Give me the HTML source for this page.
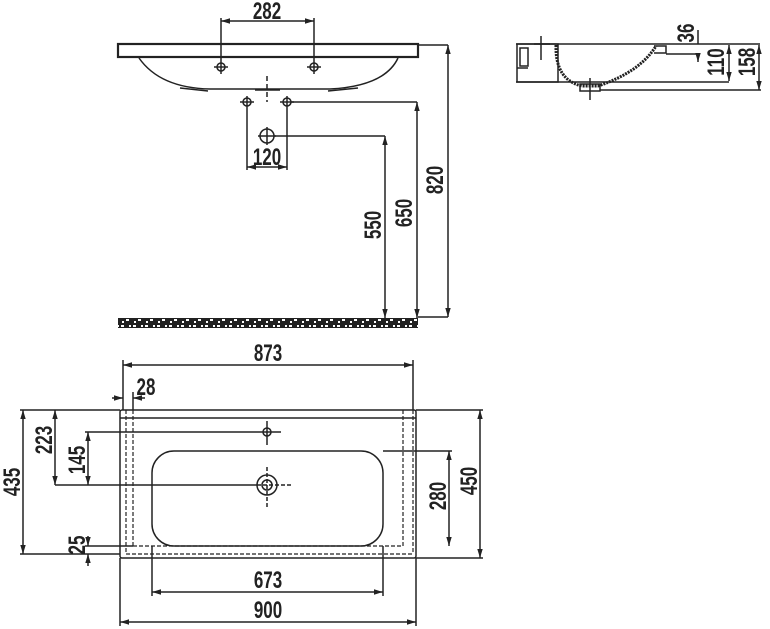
<!DOCTYPE html>
<html><head><meta charset="utf-8"><style>
html,body{margin:0;padding:0;background:#fff}
svg{display:block}
text{font-family:"Liberation Sans Narrow","Liberation Sans",sans-serif;font-weight:bold;font-size:20px;fill:#222}
</style></head><body>
<svg width="770" height="629" viewBox="0 0 770 629" xmlns="http://www.w3.org/2000/svg">
<defs>
<marker id="a" viewBox="0 0 10 10" refX="10" refY="5" markerWidth="6" markerHeight="6" orient="auto-start-reverse"><path d="M0,2 L10,5 L0,8z" fill="#222"/></marker>
<pattern id="sp" width="12" height="9" patternUnits="userSpaceOnUse"><rect width="12" height="9" fill="#222"/><rect x="1" y="1" width="3" height="2" fill="#fff"/><rect x="6" y="4" width="3" height="2" fill="#fff"/><rect x="2" y="6" width="2" height="2" fill="#fff"/><rect x="9" y="1" width="2" height="2" fill="#fff"/></pattern>
</defs>
<g stroke="#222" stroke-width="1.5" fill="none">
<rect x="118" y="44" width="300" height="13" stroke-width="2.2"/>
<path d="M139,58 Q160,88 210,89 L330,89 Q385,86 398,58"/>
<path d="M180,88 L208,91 M328,91 L358,88 M255,90 L280,90"/>
<line x1="221" y1="18" x2="221" y2="74"/><line x1="314" y1="18" x2="314" y2="74"/>
<line x1="221" y1="21" x2="314" y2="21" marker-start="url(#a)" marker-end="url(#a)"/>
<circle cx="221" cy="67" r="4"/><line x1="214" y1="67" x2="228" y2="67"/>
<circle cx="314" cy="67" r="4"/><line x1="307" y1="67" x2="321" y2="67"/>
<line x1="267" y1="76" x2="267" y2="102" stroke-dasharray="5,3"/>
<circle cx="247" cy="102" r="4"/><line x1="240" y1="102" x2="254" y2="102"/>
<circle cx="287" cy="102" r="4"/><line x1="280" y1="102" x2="294" y2="102"/>
<line x1="247" y1="96" x2="247" y2="170"/><line x1="287" y1="96" x2="287" y2="170"/>
<line x1="247" y1="167" x2="287" y2="167" marker-start="url(#a)" marker-end="url(#a)"/>
<line x1="291" y1="102" x2="417" y2="102"/>
<line x1="417" y1="102" x2="417" y2="318" marker-start="url(#a)" marker-end="url(#a)"/>
<circle cx="267" cy="136" r="7"/><line x1="267" y1="127" x2="267" y2="145"/><line x1="258" y1="136" x2="276" y2="136"/>
<line x1="274" y1="136" x2="385" y2="136"/>
<line x1="385" y1="136" x2="385" y2="318" marker-start="url(#a)" marker-end="url(#a)"/>
<line x1="418" y1="45" x2="448" y2="45"/>
<line x1="448" y1="45" x2="448" y2="317" marker-start="url(#a)" marker-end="url(#a)"/>
<line x1="418" y1="317" x2="448" y2="317"/>
<rect x="118" y="318" width="300" height="10" fill="url(#sp)" stroke="none"/>
<line x1="516" y1="44" x2="760" y2="44"/>
<line x1="516" y1="82" x2="729" y2="82"/>
<rect x="517" y="44" width="41" height="38"/>
<rect x="520" y="48" width="8" height="18"/>
<line x1="517" y1="68" x2="528" y2="68"/>
<path d="M556,45 Q555,80 582,86 L598,86 Q640,72 656,46" stroke-width="3" stroke-dasharray="2,1"/>
<rect x="580" y="84" width="20" height="7"/>
<path d="M654,46 L666,46 L666,53 L654,53"/>
<line x1="541" y1="36" x2="541" y2="60"/><line x1="534" y1="44" x2="550" y2="44"/>
<line x1="590" y1="78" x2="590" y2="100"/>
<line x1="666" y1="54" x2="698" y2="54"/><line x1="698" y1="54" x2="698" y2="62" marker-end="url(#a)"/>
<line x1="698" y1="30" x2="698" y2="44"/>
<line x1="729" y1="45" x2="729" y2="81" marker-start="url(#a)" marker-end="url(#a)"/>
<line x1="600" y1="90" x2="761" y2="90"/>
<line x1="759" y1="45" x2="759" y2="90" marker-start="url(#a)" marker-end="url(#a)"/>
<rect x="120" y="410" width="296" height="148" rx="2"/>
<line x1="120" y1="418" x2="416" y2="418"/>
<g stroke-dasharray="4,2" stroke-width="1.2">
<line x1="126" y1="410" x2="126" y2="554"/><line x1="133" y1="410" x2="133" y2="546"/>
<line x1="403" y1="410" x2="403" y2="546"/><line x1="413" y1="410" x2="413" y2="554"/>
<line x1="133" y1="546" x2="403" y2="546"/><line x1="126" y1="554" x2="413" y2="554"/>
</g>
<rect x="152" y="451" width="231" height="95" rx="22"/>
<circle cx="267" cy="432" r="4"/><line x1="267" y1="421" x2="267" y2="445"/><line x1="256" y1="432" x2="281" y2="432"/>
<circle cx="267" cy="485" r="10"/><circle cx="267" cy="485" r="5"/>
<line x1="267" y1="467" x2="267" y2="507" stroke-dasharray="4,2"/><line x1="257" y1="485" x2="291" y2="485" stroke-dasharray="4,2"/>
<line x1="123" y1="360" x2="123" y2="410"/><line x1="413" y1="360" x2="413" y2="410"/>
<line x1="123" y1="365" x2="413" y2="365" marker-start="url(#a)" marker-end="url(#a)"/>
<line x1="112" y1="398" x2="123" y2="398" marker-end="url(#a)"/><line x1="145" y1="398" x2="133" y2="398" marker-end="url(#a)"/>
<line x1="133" y1="392" x2="133" y2="410"/>
<line x1="120" y1="558" x2="120" y2="626"/><line x1="416" y1="558" x2="416" y2="626"/>
<line x1="120" y1="622" x2="416" y2="622" marker-start="url(#a)" marker-end="url(#a)"/>
<line x1="152" y1="546" x2="152" y2="596"/><line x1="383" y1="546" x2="383" y2="596"/>
<line x1="152" y1="592" x2="383" y2="592" marker-start="url(#a)" marker-end="url(#a)"/>
<line x1="20" y1="410" x2="120" y2="410"/><line x1="20" y1="554" x2="120" y2="554"/>
<line x1="23" y1="410" x2="23" y2="554" marker-start="url(#a)" marker-end="url(#a)"/>
<line x1="55" y1="410" x2="55" y2="485" marker-start="url(#a)" marker-end="url(#a)"/>
<line x1="55" y1="485" x2="257" y2="485"/>
<line x1="85" y1="432" x2="256" y2="432"/>
<line x1="88" y1="432" x2="88" y2="485" marker-start="url(#a)" marker-end="url(#a)"/>
<line x1="85" y1="546" x2="133" y2="546"/>
<line x1="88" y1="536" x2="88" y2="546" marker-end="url(#a)"/><line x1="88" y1="566" x2="88" y2="554" marker-end="url(#a)"/>
<line x1="383" y1="451" x2="452" y2="451"/>
<line x1="449" y1="451" x2="449" y2="546" marker-start="url(#a)" marker-end="url(#a)"/>
<line x1="416" y1="410" x2="483" y2="410"/><line x1="416" y1="558" x2="483" y2="558"/>
<line x1="480" y1="410" x2="480" y2="558" marker-start="url(#a)" marker-end="url(#a)"/>
</g>
<g text-anchor="middle">
<text transform="translate(267,19) scale(0.85,1.2)">282</text>
<text transform="translate(267,165) scale(0.85,1.2)">120</text>
<text transform="translate(381,225) rotate(-90) scale(0.85,1.2)">550</text>
<text transform="translate(412,213) rotate(-90) scale(0.85,1.2)">650</text>
<text transform="translate(443,180) rotate(-90) scale(0.85,1.2)">820</text>
<text transform="translate(694,33) rotate(-90) scale(0.85,1.2)">36</text>
<text transform="translate(724,62) rotate(-90) scale(0.85,1.2)">110</text>
<text transform="translate(755,62) rotate(-90) scale(0.85,1.2)">158</text>
<text transform="translate(268,361) scale(0.85,1.2)">873</text>
<text transform="translate(146,395) scale(0.85,1.2)">28</text>
<text transform="translate(20,482) rotate(-90) scale(0.85,1.2)">435</text>
<text transform="translate(52,440) rotate(-90) scale(0.85,1.2)">223</text>
<text transform="translate(85,460) rotate(-90) scale(0.85,1.2)">145</text>
<text transform="translate(85,545) rotate(-90) scale(0.85,1.2)">25</text>
<text transform="translate(446,496) rotate(-90) scale(0.85,1.2)">280</text>
<text transform="translate(477,481) rotate(-90) scale(0.85,1.2)">450</text>
<text transform="translate(268,588) scale(0.85,1.2)">673</text>
<text transform="translate(268,618) scale(0.85,1.2)">900</text>
</g>
</svg>
</body></html>
